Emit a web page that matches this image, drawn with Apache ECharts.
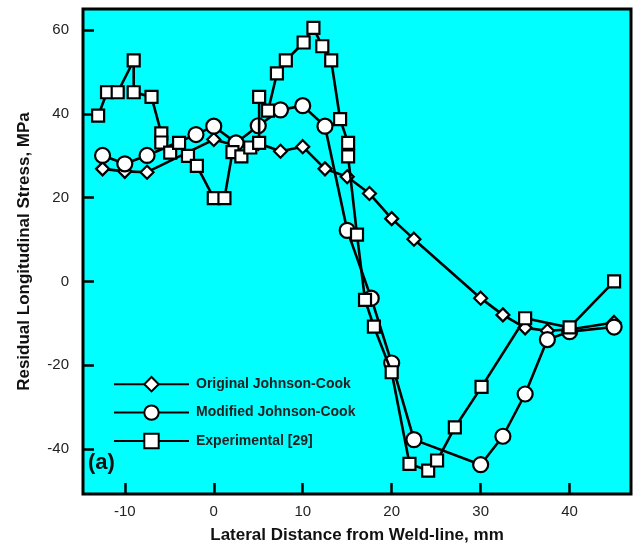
<!DOCTYPE html>
<html><head><meta charset="utf-8">
<script src="https://cdn.jsdelivr.net/npm/echarts@6/dist/echarts.min.js"></script>
<style>html,body{margin:0;padding:0;background:#fff}#c{width:637px;height:552px}</style>
</head><body><div id="c"></div>
<script>
const xTicks = [-10, 0, 10, 20, 30, 40];
const yTicks = [-40, -20, 0, 20, 40, 60];
const seriesNames = ['Original Johnson-Cook', 'Modified Johnson-Cook', 'Experimental [29]'];
const originalJC = [[-12.5,26.9],[-10,26.3],[-7.5,26.1],[0,33.9],[2.5,32.5],[5,33],[7.5,31.1],[10,32.2],[12.5,26.9],[15,25.0],[17.5,21.0],[20,15.0],[22.5,10.1],[30,-4.0],[32.5,-8.0],[35,-11.1],[37.5,-11.8],[40,-11.5],[45,-9.8]];
const modifiedJC = [[-12.5,30.1],[-10,28.1],[-7.5,30.1],[-2,35.1],[0,37.1],[2.5,33.1],[5,37.2],[7.5,41.0],[10,42.0],[12.5,37.1],[15,12.2],[17.7,-4.0],[20,-19.5],[22.5,-37.8],[30,-43.8],[32.5,-37.0],[35,-26.9],[37.5,-13.9],[40,-12.0],[45,-10.9]];
const experimental = [[-13,39.6],[-12,45.2],[-10.8,45.2],[-9,52.8],[-9,45.2],[-7,44.1],[-5.9,35.4],[-5.9,33.2],[-4.9,30.8],[-3.9,33.1],[-2.9,30.0],[-1.9,27.6],[0,19.9],[1.2,19.9],[2.1,30.9],[3.1,29.9],[4.1,32.0],[5.1,33.1],[5.1,44.1],[6.1,40.8],[7.1,49.7],[8.1,52.8],[10.1,57.1],[11.2,60.6],[12.2,56.2],[13.2,52.8],[14.2,38.8],[15.1,33.1],[15.1,29.9],[16.1,11.2],[17.0,-4.4],[18.0,-10.8],[20.0,-21.7],[22.0,-43.6],[24.1,-45.2],[25.1,-42.8],[27.1,-34.9],[30.1,-25.2],[35.0,-8.8],[40,-11.0],[45,0]];

const chart = echarts.init(document.getElementById('c'), null, {renderer:'canvas'});
const markerStyle = {color:'#fff', borderColor:'#000', borderWidth:2.2};
const lineStyle = {color:'#000', width:2.6};
function mk(name, data, symbol, size, z){
  return {name, type:'line', data, symbol, symbolSize:size, showSymbol:true,
    lineStyle, itemStyle:markerStyle, z, animation:false};
}
chart.setOption({
  animation:false,
  grid:{left:83, top:9, width:548, height:485, show:true, backgroundColor:'#00ffff', borderColor:'#000', borderWidth:3},
  xAxis:{type:'value', min:-14.7, max:46.9,
    name:'Lateral Distance from Weld-line, mm', nameLocation:'middle', nameGap:33,
    nameTextStyle:{fontFamily:'Liberation Sans, Arial', fontWeight:'bold', fontSize:17, color:'#111'},
    axisLine:{show:false, onZero:false}, splitLine:{show:false},
    axisTick:{show:true, inside:true, length:11, lineStyle:{color:'#000', width:2.5}, customValues:xTicks},
    axisLabel:{fontFamily:'Liberation Sans, Arial', fontSize:15, color:'#222', margin:10, customValues:xTicks}},
  yAxis:{type:'value', min:-50.8, max:65.1,
    name:'Residual Longitudinal Stress, MPa', nameLocation:'middle', nameGap:50,
    nameTextStyle:{fontFamily:'Liberation Sans, Arial', fontWeight:'bold', fontSize:17, color:'#111'},
    axisLine:{show:false, onZero:false}, splitLine:{show:false},
    axisTick:{show:true, inside:true, length:11, lineStyle:{color:'#000', width:2.5}, customValues:yTicks},
    axisLabel:{fontFamily:'Liberation Sans, Arial', fontSize:15, color:'#222', margin:14, customValues:yTicks}},
  legend:{orient:'vertical', left:108, top:371, itemWidth:75, itemHeight:18, itemGap:12,
    data:seriesNames,
    textStyle:{fontFamily:'Liberation Sans, Arial', fontWeight:'bold', fontSize:14, color:'#222', padding:[0,0,0,2]}},
  graphic:[{type:'text', left:88, top:452, style:{text:'(a)', fontFamily:'Liberation Sans, Arial', fontWeight:'bold', fontSize:22, fill:'#111'}}],
  series:[
    mk(seriesNames[0], originalJC, 'diamond', 13, 2),
    mk(seriesNames[1], modifiedJC, 'circle', 15, 3),
    mk(seriesNames[2], experimental, 'rect', 12, 4)
  ]
});
</script></body></html>
